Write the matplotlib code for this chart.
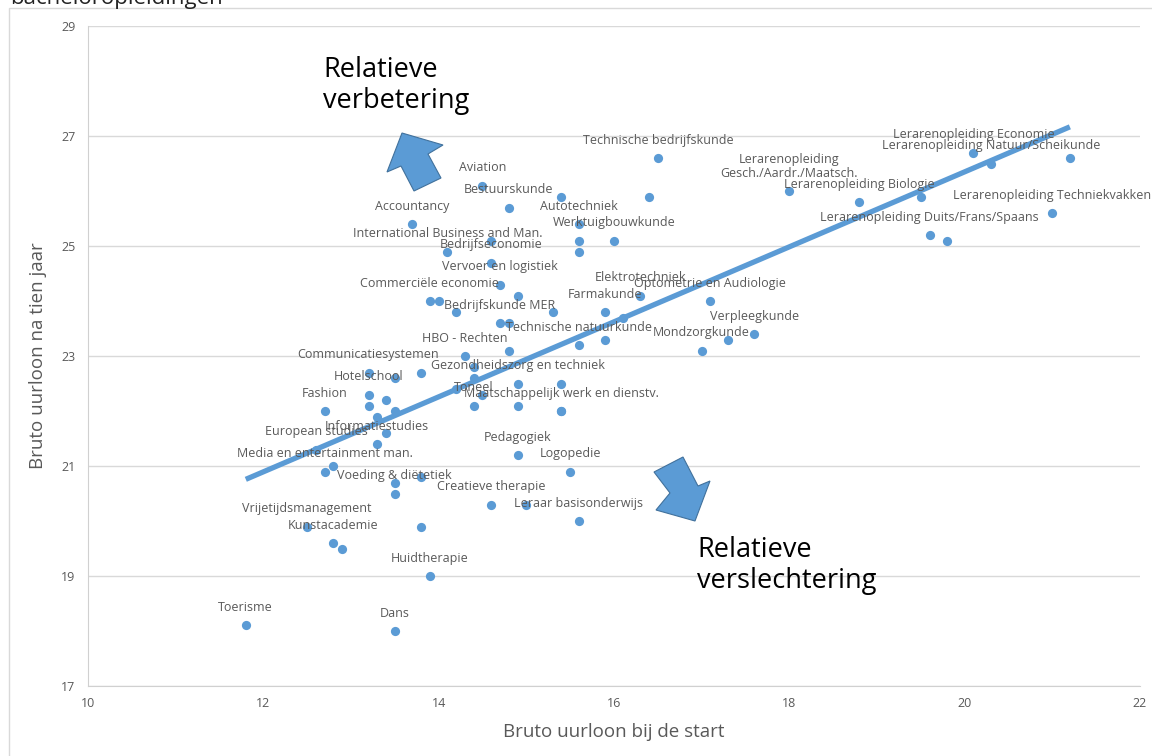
import numpy as np
import matplotlib
matplotlib.use("Agg")
import matplotlib.pyplot as plt
from matplotlib.patches import Polygon, Rectangle

plt.rcParams['font.family'] = ['Open Sans', 'DejaVu Sans']

# Labelled programmes (start wage, wage after ten years)
labels = [
    "Toerisme", "Dans", "Huidtherapie", "Kunstacademie", "Vrijetijdsmanagement",
    "Leraar basisonderwijs", "Creatieve therapie", "Voeding & diëtetiek", "Logopedie",
    "Pedagogiek", "Media en entertainment man.", "European studies", "Informatiestudies",
    "Fashion", "Hotelschool", "Communicatiesystemen", "HBO - Rechten",
    "Gezondheidszorg en techniek", "Toneel", "Maatschappelijk werk en dienstv.",
    "Technische natuurkunde", "Bedrijfskunde MER", "Commerciële economie",
    "Vervoer en logistiek", "Bedrijfseconomie", "International Business and Man.",
    "Accountancy", "Aviation", "Bestuurskunde", "Autotechniek", "Werktuigbouwkunde",
    "Technische bedrijfskunde", "Elektrotechniek", "Farmakunde",
    "Optometrie en Audiologie", "Verpleegkunde", "Mondzorgkunde",
    "Lerarenopleiding\nGesch./Aardr./Maatsch.", "Lerarenopleiding Biologie",
    "Lerarenopleiding Economie", "Lerarenopleiding Natuur/Scheikunde",
    "Lerarenopleiding Techniekvakken", "Lerarenopleiding Duits/Frans/Spaans",
]
start_lab = [
    11.8, 13.5, 13.9, 12.8, 12.5,
    15.6, 14.6, 13.5, 15.5,
    14.9, 12.7, 12.6, 13.3,
    12.7, 13.2, 13.2, 14.3,
    14.9, 14.4, 15.4,
    15.6, 14.7, 13.9,
    14.7, 14.6, 14.1,
    13.7, 14.5, 14.8, 15.6, 16.0,
    16.5, 16.3, 15.9,
    17.1, 17.6, 17.0,
    18.0, 18.8,
    20.1, 20.3,
    21.0, 19.6,
]
tenyr_lab = [
    18.1, 18.0, 19.0, 19.6, 19.9,
    20.0, 20.3, 20.5, 20.9,
    21.2, 20.9, 21.3, 21.4,
    22.0, 22.3, 22.7, 23.0,
    22.5, 22.1, 22.0,
    23.2, 23.6, 24.0,
    24.3, 24.7, 24.9,
    25.4, 26.1, 25.7, 25.4, 25.1,
    26.6, 24.1, 23.8,
    24.0, 23.4, 23.1,
    26.0, 25.8,
    26.7, 26.5,
    25.6, 25.2,
]

# Programmes without a visible label
start_unl = [12.9, 13.8, 15.0, 13.5, 13.8, 12.8, 13.4, 13.3, 13.5, 13.4, 13.2,
             13.5, 13.8, 14.8, 14.4, 14.4, 14.2, 14.5, 14.9, 15.4, 15.4, 14.8,
             14.2, 15.3, 14.0, 14.9, 14.6, 15.4, 15.6, 15.6, 16.4, 16.1, 15.9,
             17.3, 19.5, 21.2, 19.8]
tenyr_unl = [19.5, 19.9, 20.3, 20.7, 20.8, 21.0, 21.6, 21.9, 22.0, 22.2, 22.1,
             22.6, 22.7, 23.1, 22.8, 22.6, 22.4, 22.3, 22.1, 22.5, 22.0, 23.6,
             23.8, 23.8, 24.0, 24.1, 25.1, 25.9, 25.1, 24.9, 25.9, 23.7, 23.3,
             23.3, 25.9, 26.6, 25.1]

x_ticks = [10, 12, 14, 16, 18, 20, 22]
y_ticks = [17, 19, 21, 23, 25, 27, 29]

W, H = 1152, 756
fig = plt.figure(figsize=(W / 100, H / 100), dpi=100)
ax = fig.add_axes([88 / W, 1 - 686 / H, (1140 - 88) / W, (686 - 26) / H])

blue = '#5B9BD5'
grey = '#595959'

xs = np.array(start_lab + start_unl)
ys = np.array(tenyr_lab + tenyr_unl)

ax.scatter(xs, ys, s=44, color=blue, zorder=3, linewidths=0)

# linear trend line over the data range
k, b = np.polyfit(xs, ys, 1)
xl = np.array([xs.min(), xs.max()])
ax.plot(xl, k * xl + b, color=blue, lw=3.8, zorder=4, solid_capstyle='butt')

for lab, x, y in zip(labels, start_lab, tenyr_lab):
    ax.annotate(lab, (x, y), xytext=(0, 8), textcoords='offset points',
                ha='center', va='bottom', fontsize=9, color=grey, zorder=5,
                linespacing=1.05)

ax.set_xlim(10, 22)
ax.set_ylim(17, 29)
ax.set_xticks(x_ticks)
ax.set_yticks(y_ticks)
ax.tick_params(length=0, labelsize=9, colors=grey)
ax.tick_params(axis='y', pad=9)
ax.tick_params(axis='x', pad=8)
ax.grid(axis='y', color='#d9d9d9', lw=1)
ax.set_axisbelow(True)
for s in ['top', 'right']:
    ax.spines[s].set_visible(False)
ax.spines['left'].set_color('#d0d0d0')
ax.spines['bottom'].set_color('#d0d0d0')

ax.set_xlabel("Bruto uurloon bij de start", fontsize=13.5, color=grey, labelpad=9)
ax.set_ylabel("Bruto uurloon na tien jaar", fontsize=13.5, color=grey, labelpad=10)

def fig_pts(pts):
    return [(px / W, 1 - py / H) for px, py in pts]

up_arrow = [(402, 133), (443, 145), (428, 154), (441, 178), (414, 191), (401, 166), (387, 172)]
down_arrow = [(695, 521), (656, 510), (670, 493), (654, 472), (683, 457), (698, 486), (710, 481)]
for pts in (up_arrow, down_arrow):
    fig.patches.append(Polygon(fig_pts(pts), closed=True, transform=fig.transFigure,
                               facecolor=blue, edgecolor='#41719C', lw=0.8, zorder=6))

fig.text(323 / W, 1 - 56 / H, "Relatieve\nverbetering", fontsize=19.5, color='black',
         ha='left', va='top', linespacing=1.15)
fig.text(697 / W, 1 - 536 / H, "Relatieve\nverslechtering", fontsize=19.5, color='black',
         ha='left', va='top', linespacing=1.15)

# outer chart frame and clipped title
fig.patches.append(Rectangle((9 / W, -0.01), 1.2, 1 - 8 / H + 0.01, transform=fig.transFigure,
                             facecolor='none', edgecolor='#d9d9d9', lw=1, zorder=0))
fig.text(10 / W, 1 - 4 / H, "bacheloropleidingen", fontsize=16, color='#222222',
         ha='left', va='baseline')

fig.savefig("out.png", dpi=100)
